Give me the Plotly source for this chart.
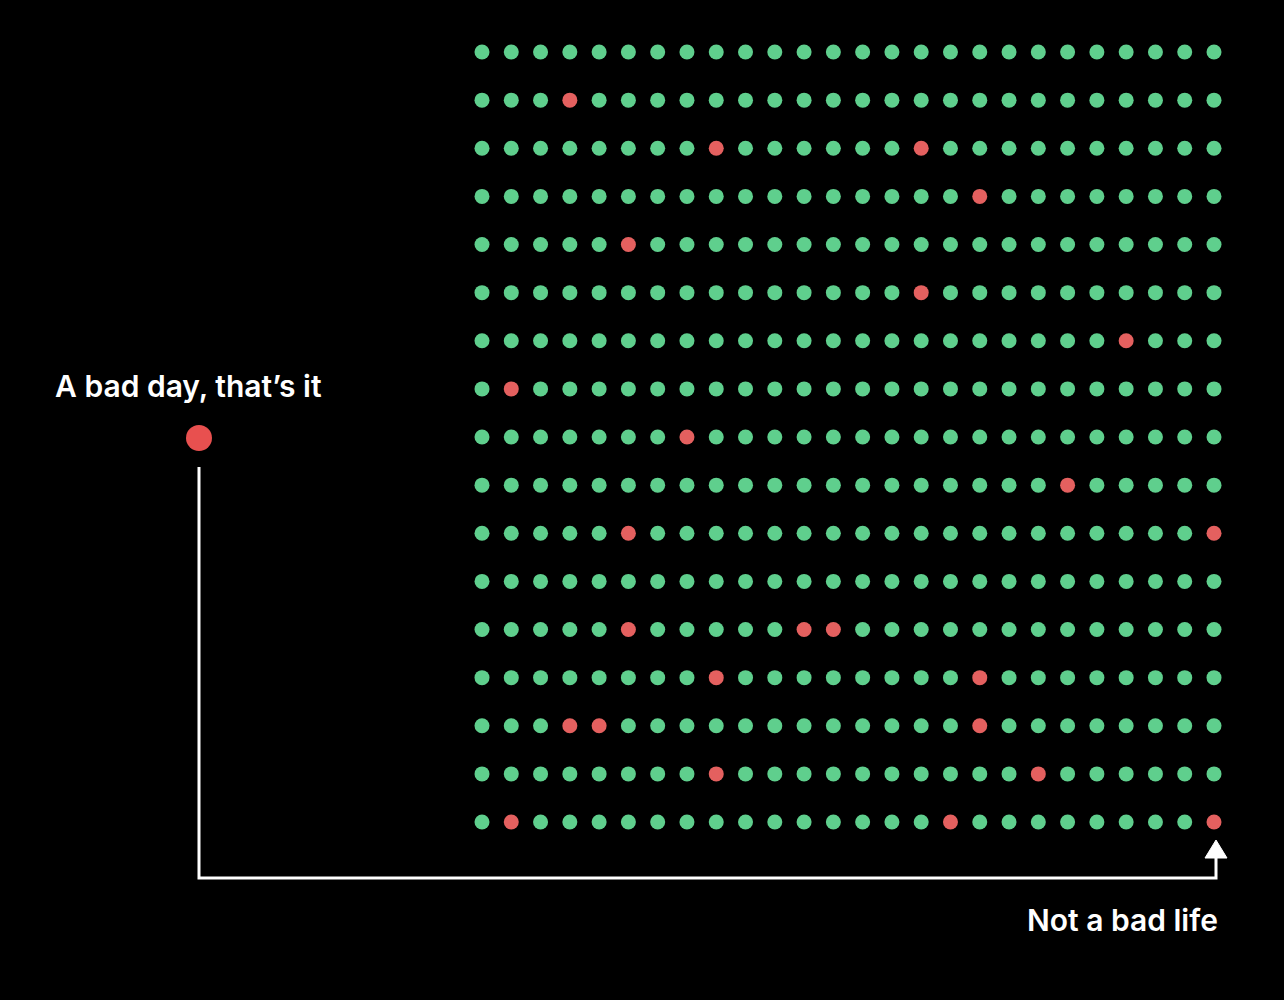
import plotly.graph_objects as go

# ---- data ----
n_cols = 26   # days per row
n_rows = 17   # rows of days
bad_day_rows = [1, 2, 2, 3, 4, 5, 6, 7, 8, 9, 10, 10, 12, 12, 12, 13, 13, 14, 14, 14, 15, 15, 16, 16, 16]
bad_day_cols = [3, 8, 15, 17, 5, 15, 22, 1, 7, 20, 5, 25, 5, 11, 12, 8, 17, 3, 4, 17, 8, 19, 1, 16, 25]
label_bad_day = "A bad day, that\u2019s it"
label_life = "Not a bad life"

GREEN = "#5fcf8d"
RED = "#e4605f"
W, H = 1284, 1000

bad = set(zip(bad_day_rows, bad_day_cols))
good_x, good_y = [], []
for r in range(n_rows):
    for c in range(n_cols):
        if (r, c) not in bad:
            good_x.append(c)
            good_y.append(r)

fig = go.Figure()
fig.add_trace(go.Scatter(x=good_x, y=good_y, mode="markers",
                         marker=dict(size=15, color=GREEN, line=dict(width=0)),
                         hoverinfo="skip", showlegend=False))
fig.add_trace(go.Scatter(x=bad_day_cols, y=bad_day_rows, mode="markers",
                         marker=dict(size=15, color=RED, line=dict(width=0)),
                         hoverinfo="skip", showlegend=False))

# axis mapping: grid placement in the canvas
gx0, gx1 = 482, 1214
gy0, gy1 = 52, 822
sx = (gx1 - gx0) / (n_cols - 1)
sy = (gy1 - gy0) / (n_rows - 1)
xr = [-gx0 / sx, (W - gx0) / sx]
yr = [(H - gy0) / sy, -gy0 / sy]

def px(x):
    return x / W

def py(y):
    return 1 - y / H

# decorative connector
path = (f"M {px(199)} {py(467)} L {px(199)} {py(878)} "
        f"L {px(1216)} {py(878)} L {px(1216)} {py(855)}")
arrow = (f"M {px(1205)} {py(858)} L {px(1216)} {py(840)} "
         f"L {px(1227)} {py(858)} Z")
shapes = [
    dict(type="path", path=path, xref="paper", yref="paper",
         line=dict(color="white", width=3)),
    dict(type="path", path=arrow, xref="paper", yref="paper",
         line=dict(color="white", width=1), fillcolor="white"),
    dict(type="circle", xref="paper", yref="paper",
         x0=px(186), x1=px(212), y0=py(425), y1=py(451),
         fillcolor="#e8504f", line=dict(width=0)),
]

FONT = dict(family="Inter", size=30, color="white", weight=600)
annotations = [
    dict(text=label_bad_day, xref="paper", yref="paper", x=px(189), y=py(386),
         showarrow=False, xanchor="center", yanchor="middle", font=FONT),
    dict(text=label_life, xref="paper", yref="paper", x=px(1122), y=py(920),
         showarrow=False, xanchor="center", yanchor="middle", font=FONT),
]

fig.update_layout(
    width=W, height=H,
    margin=dict(l=0, r=0, t=0, b=0),
    paper_bgcolor="black", plot_bgcolor="black",
    xaxis=dict(range=xr, visible=False, fixedrange=True),
    yaxis=dict(range=yr, visible=False, fixedrange=True),
    shapes=shapes, annotations=annotations,
)
fig.write_html("out.html", config=dict(displayModeBar=False),
               post_script="document.body.style.margin='0';document.body.style.background='black';")
